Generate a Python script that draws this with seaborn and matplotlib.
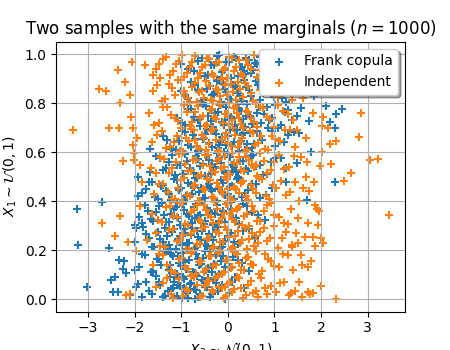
import matplotlib
matplotlib.use("Agg")
import matplotlib.pyplot as plt
import seaborn as sns
import pandas as pd

# Frank copula sample: (X2 ~ N(0,1), X1 ~ U(0,1)) points
frank_points = [
    (-3.01,0.048),(-2.46,0.03),(-2.36,0.03),(-1.97,0.048),(-2.50,0.078),(-2.41,0.091),
    (-1.62,0.02),(-1.45,0.06),(-1.38,0.01),(-1.30,0.085),(-1.22,0.04),(-1.15,0.07),
    (-1.10,0.015),(-1.02,0.055),(-0.96,0.09),(-0.90,0.03),(-0.85,0.005),(-0.78,0.065),
    (-0.72,0.04),(-0.66,0.095),(-0.60,0.02),(-0.52,0.075),(-0.45,0.05),(-0.38,0.01),
    (-0.30,0.08),(-0.22,0.035),(-0.12,0.06),(0.02,0.025),(0.15,0.09),(0.35,0.045),
    (-1.75,0.07),(-1.85,0.01),(-1.55,0.095),(-0.95,0.045),(-0.70,0.0),(-1.28,0.035),
    (-2.34,0.159),(-2.22,0.155),(-2.25,0.125),(-2.18,0.107),(-1.90,0.13),(-1.78,0.18),
    (-1.65,0.11),(-1.52,0.165),(-1.44,0.14),(-1.36,0.195),(-1.27,0.12),(-1.18,0.175),
    (-1.10,0.105),(-1.04,0.15),(-0.97,0.19),(-0.90,0.125),(-0.83,0.16),(-0.75,0.11),
    (-0.68,0.185),(-0.61,0.14),(-0.53,0.17),(-0.46,0.12),(-0.38,0.195),(-0.29,0.145),
    (-0.20,0.105),(-0.10,0.175),(0.05,0.13),(0.22,0.16),(0.45,0.115),(-1.00,0.135),
    (-0.57,0.155),(-1.21,0.185),
    (-3.21,0.22),(-2.55,0.21),(-1.99,0.234),(-1.97,0.29),(-1.83,0.295),(-1.70,0.25),
    (-1.58,0.215),(-1.49,0.275),(-1.40,0.235),(-1.31,0.26),(-1.23,0.205),(-1.15,0.285),
    (-1.07,0.245),(-0.99,0.22),(-0.92,0.27),(-0.84,0.23),(-0.77,0.29),(-0.70,0.21),
    (-0.63,0.255),(-0.55,0.28),(-0.48,0.225),(-0.40,0.265),(-0.31,0.24),(-0.22,0.295),
    (-0.12,0.215),(0.00,0.26),(0.14,0.235),(0.32,0.28),(0.58,0.25),(-0.88,0.205),
    (-0.60,0.24),
    (-3.23,0.367),(-2.69,0.395),(-1.90,0.336),(-1.99,0.305),(-1.84,0.31),(-1.72,0.36),
    (-1.60,0.32),(-1.48,0.38),(-1.37,0.345),(-1.26,0.315),(-1.16,0.37),(-1.06,0.33),
    (-0.97,0.39),(-0.88,0.35),(-0.80,0.31),(-0.72,0.375),(-0.64,0.34),(-0.56,0.395),
    (-0.48,0.32),(-0.40,0.36),(-0.32,0.305),(-0.24,0.385),(-0.15,0.345),(-0.05,0.315),
    (0.06,0.37),(0.18,0.33),(0.33,0.39),(0.52,0.355),(0.80,0.325),(-0.70,0.33),
    (-0.28,0.35),(-1.10,0.395),
    (-1.93,0.497),(-1.93,0.42),(-1.75,0.45),(-1.62,0.48),(-1.50,0.41),(-1.38,0.465),
    (-1.27,0.43),(-1.16,0.49),(-1.05,0.445),(-0.94,0.405),(-0.85,0.475),(-0.76,0.43),
    (-0.67,0.495),(-0.58,0.455),(-0.49,0.415),(-0.41,0.47),(-0.33,0.44),(-0.24,0.40),
    (-0.15,0.485),(-0.06,0.425),(0.04,0.46),(0.14,0.41),(0.25,0.49),(0.37,0.435),
    (0.51,0.47),(0.70,0.415),(0.95,0.455),(1.25,0.48),(1.70,0.404),(2.29,0.48),
    (-0.20,0.45),(-0.72,0.46),
    (-1.66,0.52),(-1.45,0.575),(-1.32,0.535),(-1.20,0.59),(-1.08,0.55),(-0.97,0.51),
    (-0.87,0.565),(-0.78,0.525),(-0.68,0.585),(-0.59,0.545),(-0.50,0.505),(-0.41,0.57),
    (-0.32,0.53),(-0.23,0.595),(-0.14,0.555),(-0.05,0.515),(0.04,0.58),(0.13,0.54),
    (0.22,0.50),(0.32,0.565),(0.43,0.525),(0.55,0.59),(0.68,0.55),(0.84,0.51),
    (1.03,0.575),(1.25,0.535),(1.49,0.556),(-0.35,0.55),(0.10,0.52),
    (-1.66,0.615),(-1.30,0.65),(-1.12,0.61),(-0.98,0.685),(-0.86,0.63),(-0.75,0.67),
    (-0.64,0.605),(-0.54,0.655),(-0.44,0.695),(-0.35,0.62),(-0.26,0.675),(-0.17,0.64),
    (-0.08,0.60),(0.01,0.665),(0.10,0.625),(0.19,0.69),(0.28,0.645),(0.37,0.61),
    (0.47,0.68),(0.57,0.635),(0.68,0.665),(0.80,0.615),(0.94,0.685),(1.10,0.645),
    (1.30,0.67),(1.52,0.678),(1.79,0.60),(2.29,0.70),(0.30,0.67),(-0.20,0.63),
    (-1.10,0.74),(-0.92,0.71),(-0.78,0.775),(-0.65,0.73),(-0.53,0.795),(-0.42,0.75),
    (-0.32,0.705),(-0.22,0.765),(-0.12,0.725),(-0.03,0.785),(0.06,0.745),(0.15,0.71),
    (0.24,0.775),(0.33,0.735),(0.42,0.795),(0.52,0.715),(0.62,0.76),(0.72,0.72),
    (0.83,0.785),(0.95,0.74),(1.08,0.70),(1.22,0.765),(1.38,0.73),(1.58,0.78),
    (2.19,0.724),(2.32,0.755),(2.44,0.778),(2.11,0.79),(0.40,0.75),(-0.05,0.73),
    (-1.00,0.85),(-0.85,0.82),(-0.70,0.875),(-0.57,0.81),(-0.45,0.86),(-0.34,0.835),
    (-0.24,0.89),(-0.14,0.805),(-0.10,0.88),(-0.03,0.845),(0.07,0.815),(0.16,0.87),
    (0.26,0.83),(0.35,0.895),(0.45,0.855),(0.55,0.81),(0.65,0.875),(0.75,0.84),
    (0.86,0.895),(0.98,0.825),(1.10,0.865),(1.24,0.805),(1.40,0.85),(1.60,0.885),
    (1.85,0.83),(2.05,0.86),(0.50,0.84),(0.20,0.86),
    (-1.00,0.96),(-0.72,0.93),(-0.55,0.985),(-0.42,0.915),(-0.30,0.955),(-0.19,0.995),
    (-0.08,0.935),(0.02,0.97),(0.13,0.99),(0.22,0.91),(0.31,0.95),(0.40,0.985),
    (0.49,0.925),(0.58,0.965),(0.67,0.905),(0.76,0.945),(0.86,0.98),(0.96,0.92),
    (1.07,0.96),(1.19,0.995),(1.32,0.93),(1.47,0.97),(1.65,0.91),(1.90,0.95),
    (2.20,0.985),(0.70,0.99),(0.35,0.93),
]

# Frank copula sample, dense core: X2 values and X1 values (band by band)
frank_core_x2 = [
    -1.48,-1.35,-1.25,-1.18,-1.06,-0.99,-0.93,-0.87,-0.81,-0.75,-0.68,-0.63,-0.56,-0.49,-0.42,-0.34,-0.26,-0.17,-0.05,0.08,-1.68,-1.92,-2.10,
    -1.60,-1.48,-1.32,-1.24,-1.14,-1.07,-0.94,-0.87,-0.79,-0.71,-0.64,-0.57,-0.49,-0.42,-0.34,-0.25,-0.15,-0.05,0.12,0.30,-1.85,-2.00,
    -1.76,-1.63,-1.45,-1.35,-1.27,-1.19,-1.11,-1.03,-0.95,-0.88,-0.80,-0.73,-0.66,-0.58,-0.51,-0.44,-0.35,-0.26,-0.17,-0.06,0.07,0.22,0.45,
    -1.78,-1.65,-1.54,-1.42,-1.32,-1.21,-1.11,-1.02,-0.93,-0.84,-0.76,-0.68,-0.60,-0.52,-0.44,-0.36,-0.20,-0.10,0.00,0.12,0.25,0.42,0.65,
    -1.84,-1.68,-1.56,-1.44,-1.33,-1.21,-1.10,-1.00,-0.90,-0.80,-0.71,-0.62,-0.53,-0.45,-0.37,-0.28,-0.10,0.00,0.09,0.20,0.31,0.44,0.60,0.82,
    -1.55,-1.38,-1.26,-1.14,-1.02,-0.92,-0.82,-0.73,-0.63,-0.54,-0.46,-0.37,-0.27,-0.18,-0.09,0.00,0.08,0.18,0.27,0.38,0.49,0.61,0.76,0.93,1.14,
    -1.40,-1.21,-1.05,-0.92,-0.80,-0.70,-0.59,-0.49,-0.40,-0.30,-0.22,-0.13,-0.04,0.05,0.14,0.23,0.33,0.42,0.52,0.62,0.74,0.87,1.02,1.20,1.42,
    -0.98,-0.85,-0.72,-0.59,-0.47,-0.37,-0.27,-0.17,-0.08,0.01,0.10,0.19,0.28,0.37,0.47,0.57,0.67,0.78,0.89,1.01,1.15,1.30,1.48,1.75,
    -0.92,-0.78,-0.64,-0.51,-0.39,-0.29,-0.19,-0.06,0.02,0.11,0.21,0.30,0.40,0.50,0.60,0.70,0.80,0.92,1.04,1.17,1.32,1.50,1.72,
    -0.85,-0.63,-0.48,-0.36,-0.24,-0.13,-0.03,0.07,0.17,0.26,0.36,0.45,0.54,0.63,0.72,0.81,0.91,1.01,1.13,1.25,1.39,1.56,1.78,
]
frank_core_x1 = [
    .072,.013,.091,.046,.058,.004,.083,.027,.064,.097,.038,.011,.079,.052,.088,.021,.067,.044,.002,.071,.035,.062,.016,
    .117,.163,.192,.138,.104,.176,.151,.122,.187,.109,.166,.143,.198,.127,.112,.181,.156,.133,.172,.148,.186,.119,
    .268,.214,.247,.292,.223,.276,.207,.258,.286,.231,.263,.202,.279,.241,.296,.218,.254,.283,.209,.239,.271,.226,.288,
    .384,.326,.357,.393,.314,.348,.377,.302,.366,.338,.311,.389,.342,.307,.371,.353,.319,.362,.396,.331,.308,.381,.344,
    .432,.478,.416,.463,.441,.407,.486,.453,.421,.468,.494,.437,.412,.457,.448,.403,.476,.428,.461,.492,.418,.446,.471,.426,
    .583,.527,.561,.508,.546,.592,.534,.517,.571,.553,.588,.512,.541,.576,.524,.597,.549,.518,.566,.531,.584,.543,.509,.562,.578,
    .668,.612,.647,.683,.621,.656,.608,.674,.638,.692,.617,.661,.629,.689,.643,.604,.677,.634,.616,.686,.652,.697,.626,.641,.681,
    .718,.776,.743,.709,.787,.728,.762,.791,.713,.754,.736,.797,.768,.703,.747,.722,.783,.758,.731,.794,.712,.771,.749,.726,
    .828,.886,.853,.812,.871,.838,.894,.857,.819,.876,.843,.808,.867,.831,.892,.814,.859,.836,.882,.821,.863,.846,.899,
    .938,.972,.913,.956,.991,.927,.968,.904,.983,.947,.919,.976,.934,.961,.993,.922,.951,.908,.979,.943,.966,.931,.917,
]

# Independent sample with the same marginals
indep_points = [
    (-3.32,0.69),(-2.76,0.86),(-2.61,0.85),(-2.36,0.935),(-2.05,0.97),(-2.20,0.887),
    (-2.32,0.80),(-2.09,0.835),(-1.77,0.958),(-2.07,0.744),(-2.55,0.70),(-2.34,0.697),
    (-2.04,0.697),(-1.95,0.658),(-2.04,0.631),(-2.25,0.565),(-2.01,0.595),(-2.01,0.57),
    (-1.88,0.55),(-2.32,0.34),(-2.70,0.313),(-2.41,0.258),(-2.15,0.234),(-1.97,0.196),
    (-1.84,0.479),(-1.88,0.38),(-1.73,0.24),(-2.18,0.016),(-2.10,0.02),
    (2.86,0.76),(2.82,0.662),(3.06,0.57),(3.22,0.573),(3.46,0.343),(2.65,0.517),
    (2.50,0.483),(2.22,0.554),(2.31,0.646),(2.20,0.633),(2.15,0.697),(2.01,0.707),
    (2.04,0.744),(1.82,0.76),(2.01,0.60),(1.97,0.543),(1.87,0.384),(1.95,0.36),
    (1.72,0.31),(1.94,0.302),(1.99,0.248),(2.04,0.23),(1.87,0.216),(1.82,0.254),
    (1.65,0.254),(1.37,0.213),(1.79,0.156),(1.60,0.14),(1.73,0.13),(1.99,0.054),
    (2.31,0.003),(1.72,0.03),(1.82,0.025),(1.60,0.01),(1.31,0.016),(1.67,0.497),
    (1.62,0.453),(1.92,0.37),(1.51,0.33),(1.67,0.66),
    (1.55,0.93),(1.62,0.82),(1.48,0.69),(1.58,0.58),(1.75,0.44),(1.53,0.40),
    (1.46,0.27),(1.57,0.18),(1.52,0.07),(1.70,0.56),(1.85,0.48),
    (-1.55,0.05),(-1.30,0.085),(-1.18,0.004),(-0.97,0.015),(-0.85,0.035),(-0.72,0.09),
    (-0.60,0.01),(-0.50,0.055),(-0.40,0.075),(-0.31,0.03),(-0.22,0.095),(-0.13,0.045),
    (-0.04,0.015),(0.05,0.07),(0.14,0.04),(0.23,0.085),(0.33,0.005),(0.43,0.06),
    (0.54,0.025),(0.64,0.01),(0.80,0.045),(0.85,0.02),(1.03,0.03),(1.12,0.065),
    (1.45,0.035),(1.77,0.02),(-0.05,0.05),
    (-1.60,0.14),(-1.40,0.18),(-1.22,0.115),(-1.05,0.165),(-0.92,0.13),(-0.80,0.19),
    (-0.68,0.105),(-0.57,0.155),(-0.46,0.125),(-0.36,0.175),(-0.26,0.14),(-0.17,0.195),
    (-0.08,0.11),(0.01,0.16),(0.10,0.13),(0.19,0.185),(0.29,0.12),(0.39,0.17),
    (0.50,0.145),(0.61,0.195),(0.73,0.115),(0.86,0.165),(1.00,0.135),(1.18,0.185),
    (1.40,0.12),
    (-1.55,0.27),(-1.35,0.215),(-1.18,0.285),(-1.03,0.24),(-0.90,0.20),(-0.78,0.265),
    (-0.66,0.225),(-0.55,0.29),(-0.45,0.245),(-0.35,0.21),(-0.25,0.275),(-0.16,0.235),
    (-0.07,0.295),(0.02,0.255),(0.11,0.215),(0.21,0.28),(0.31,0.24),(0.41,0.205),
    (0.52,0.27),(0.64,0.23),(0.77,0.29),(0.91,0.25),(1.07,0.21),(1.25,0.275),
    (1.50,0.23),(0.60,0.26),
    (-1.62,0.35),(-1.42,0.315),(-1.25,0.38),(-1.10,0.335),(-0.97,0.395),(-0.85,0.305),
    (-0.73,0.365),(-0.62,0.325),(-0.52,0.385),(-0.42,0.345),(-0.32,0.31),(-0.23,0.37),
    (-0.13,0.33),(-0.04,0.39),(0.05,0.35),(0.15,0.315),(0.25,0.375),(0.35,0.34),
    (0.46,0.30),(0.57,0.36),(0.70,0.32),(0.84,0.385),(1.00,0.345),(1.20,0.31),
    (1.35,0.37),(0.10,0.36),
    (-1.58,0.43),(-1.38,0.47),(-1.20,0.41),(-1.06,0.455),(-0.93,0.495),(-0.81,0.42),
    (-0.70,0.465),(-0.59,0.40),(-0.49,0.445),(-0.39,0.485),(-0.29,0.415),(-0.20,0.46),
    (-0.10,0.43),(-0.01,0.49),(0.08,0.405),(0.18,0.45),(0.28,0.475),(0.38,0.42),
    (0.49,0.465),(0.61,0.435),(0.74,0.49),(0.88,0.41),(1.04,0.455),(1.24,0.425),
    (1.45,0.48),(0.00,0.45),
    (-1.65,0.535),(-1.45,0.58),(-1.27,0.515),(-1.12,0.56),(-0.98,0.595),(-0.86,0.525),
    (-0.74,0.57),(-0.63,0.505),(-0.53,0.55),(-0.43,0.59),(-0.33,0.52),(-0.24,0.565),
    (-0.14,0.535),(-0.05,0.585),(0.04,0.51),(0.14,0.555),(0.24,0.58),(0.34,0.525),
    (0.45,0.57),(0.57,0.54),(0.70,0.595),(0.84,0.515),(1.00,0.56),(1.20,0.53),
    (1.42,0.585),(0.60,0.55),
    (-1.62,0.64),(-1.42,0.685),(-1.24,0.62),(-1.09,0.665),(-0.96,0.60),(-0.84,0.645),
    (-0.72,0.69),(-0.61,0.615),(-0.51,0.66),(-0.41,0.635),(-0.31,0.695),(-0.22,0.605),
    (-0.12,0.65),(-0.03,0.68),(0.06,0.625),(0.16,0.67),(0.26,0.64),(0.36,0.60),
    (0.47,0.685),(0.59,0.63),(0.72,0.665),(0.86,0.61),(1.02,0.655),(1.22,0.69),
    (1.45,0.62),(-0.70,0.65),
    (-1.70,0.76),(-1.48,0.72),(-1.30,0.785),(-1.14,0.74),(-1.00,0.70),(-0.88,0.765),
    (-0.76,0.725),(-0.65,0.79),(-0.54,0.75),(-0.44,0.71),(-0.34,0.775),(-0.25,0.735),
    (-0.15,0.795),(-0.06,0.755),(0.03,0.715),(0.13,0.78),(0.23,0.74),(0.33,0.70),
    (0.44,0.765),(0.56,0.725),(0.69,0.785),(0.83,0.745),(0.99,0.705),(1.18,0.77),
    (1.40,0.73),(0.20,0.76),
    (-1.60,0.85),(-1.42,0.81),(-1.27,0.88),(-1.13,0.835),(-1.00,0.895),(-0.88,0.82),
    (-0.77,0.865),(-0.66,0.805),(-0.56,0.85),(-0.46,0.89),(-0.36,0.815),(-0.26,0.86),
    (-0.17,0.83),(-0.07,0.875),(0.02,0.80),(0.12,0.845),(0.22,0.885),(0.32,0.825),
    (0.43,0.87),(0.55,0.81),(0.68,0.855),(0.82,0.895),(0.98,0.835),(1.17,0.865),
    (1.38,0.815),(-0.95,0.85),
    (-1.55,0.94),(-1.40,0.98),(-1.25,0.915),(-1.12,0.96),(-0.99,0.995),(-0.87,0.925),
    (-0.76,0.97),(-0.65,0.905),(-0.55,0.95),(-0.45,0.985),(-0.35,0.92),(-0.25,0.965),
    (-0.15,0.90),(-0.06,0.945),(0.03,0.99),(0.13,0.93),(0.23,0.975),(0.33,0.91),
    (0.44,0.955),(0.56,0.995),(0.69,0.935),(0.83,0.97),(0.99,0.915),(1.18,0.96),
    (1.40,0.99),(-1.45,0.905),
]

# Independent sample, dense core: X2 values and X1 values (band by band)
indep_core_x2 = [
    -1.40,-1.22,-1.05,-0.90,-0.78,-0.66,-0.55,-0.45,-0.35,-0.27,-0.18,-0.09,0.00,0.09,0.19,0.28,0.38,0.49,0.60,0.72,0.92,1.20,1.35,
    -1.48,-1.30,-1.13,-0.99,-0.86,-0.74,-0.62,-0.51,-0.41,-0.31,-0.21,-0.12,-0.03,0.06,0.15,0.24,0.34,0.44,0.55,0.67,0.80,0.93,1.09,1.28,
    -1.45,-1.27,-1.10,-0.97,-0.84,-0.72,-0.60,-0.50,-0.40,-0.30,-0.20,-0.11,-0.02,0.07,0.16,0.26,0.36,0.46,0.57,0.70,0.84,0.99,1.16,1.38,
    -1.50,-1.33,-1.17,-1.03,-0.91,-0.79,-0.67,-0.57,-0.47,-0.37,-0.27,-0.18,-0.08,0.01,0.10,0.20,0.30,0.41,0.51,0.63,0.77,0.92,1.10,1.28,
    -1.48,-1.29,-1.13,-1.00,-0.87,-0.75,-0.64,-0.54,-0.44,-0.34,-0.24,-0.15,-0.05,0.04,0.13,0.23,0.33,0.43,0.55,0.67,0.81,0.96,1.14,1.34,
    -1.55,-1.36,-1.19,-1.05,-0.92,-0.80,-0.69,-0.58,-0.48,-0.38,-0.28,-0.19,-0.09,0.00,0.09,0.19,0.29,0.39,0.51,0.63,0.77,0.92,1.10,1.31,
    -1.52,-1.33,-1.16,-1.02,-0.90,-0.78,-0.66,-0.56,-0.46,-0.36,-0.26,-0.17,-0.07,0.01,0.11,0.21,0.31,0.41,0.53,0.65,0.79,0.94,1.12,1.33,
    -1.58,-1.39,-1.22,-1.07,-0.94,-0.82,-0.70,-0.59,-0.49,-0.39,-0.30,-0.20,-0.10,-0.01,0.08,0.18,0.28,0.38,0.50,0.62,0.76,0.91,1.08,1.29,
    -1.52,-1.35,-1.20,-1.07,-0.94,-0.82,-0.71,-0.61,-0.51,-0.41,-0.31,-0.21,-0.12,-0.02,0.07,0.17,0.27,0.37,0.49,0.61,0.75,0.90,1.07,1.27,
    -1.60,-1.48,-1.33,-1.18,-1.05,-0.93,-0.81,-0.70,-0.60,-0.50,-0.40,-0.30,-0.20,-0.10,-0.01,0.08,0.18,0.28,0.39,0.50,0.62,0.76,0.91,1.08,1.29,
]
indep_core_x1 = [
    .067,.023,.081,.042,.095,.058,.014,.073,.036,.088,.051,.007,.064,.029,.092,.047,.018,.076,.033,.085,.055,.071,.026,
    .183,.141,.107,.168,.124,.195,.152,.113,.177,.136,.189,.104,.161,.128,.193,.147,.118,.172,.139,.102,.185,.157,.131,.179,
    .216,.284,.239,.261,.203,.277,.226,.293,.248,.212,.269,.235,.281,.207,.257,.228,.291,.244,.219,.273,.238,.297,.252,.221,
    .322,.376,.341,.392,.306,.358,.383,.317,.363,.334,.398,.312,.351,.387,.327,.369,.303,.346,.379,.318,.362,.391,.337,.309,
    .472,.438,.411,.488,.427,.463,.401,.451,.492,.419,.474,.443,.497,.414,.458,.433,.481,.406,.449,.495,.422,.466,.484,.439,
    .514,.572,.536,.593,.551,.522,.568,.506,.587,.543,.519,.574,.538,.509,.596,.556,.528,.581,.547,.502,.565,.529,.589,.541,
    .672,.618,.643,.604,.659,.694,.627,.671,.611,.686,.648,.602,.664,.639,.698,.622,.657,.609,.679,.636,.613,.668,.645,.691,
    .713,.784,.752,.727,.791,.706,.763,.738,.709,.772,.744,.798,.721,.757,.732,.788,.716,.769,.741,.702,.779,.734,.792,.758,
    .874,.818,.862,.893,.836,.807,.881,.847,.823,.869,.811,.854,.898,.833,.877,.815,.858,.884,.842,.803,.866,.891,.827,.851,
    .917,.962,.988,.931,.973,.908,.946,.994,.924,.957,.981,.913,.969,.936,.902,.984,.949,.921,.976,.941,.909,.964,.928,.987,.953,
]

series_labels = ["Frank copula", "Independent"]
series_colors = ["#1f77b4", "#ff7f0e"]
title_text = r"Two samples with the same marginals ($n = 1000$)"
xlabel_text = r"$X_2 \sim \mathcal{N}(0, 1)$"
ylabel_text = r"$X_1 \sim \mathcal{U}(0, 1)$"

n_f = min(len(frank_core_x2), len(frank_core_x1))
n_i = min(len(indep_core_x2), len(indep_core_x1))
frank = pd.concat([
    pd.DataFrame(frank_points, columns=["x2", "x1"]),
    pd.DataFrame({"x2": frank_core_x2[:n_f], "x1": frank_core_x1[:n_f]}),
], ignore_index=True)
indep = pd.concat([
    pd.DataFrame(indep_points, columns=["x2", "x1"]),
    pd.DataFrame({"x2": indep_core_x2[:n_i], "x1": indep_core_x1[:n_i]}),
], ignore_index=True)

fig, ax = plt.subplots(figsize=(4.5, 3.5), dpi=100)
for df, lab, col in zip([frank, indep], series_labels, series_colors):
    sns.scatterplot(data=df, x="x2", y="x1", marker="+", s=36, linewidth=1.5,
                    color=col, label=lab, ax=ax)

ax.set_title(title_text)
ax.set_xlabel(xlabel_text)
ax.set_ylabel(ylabel_text)
ax.set_xlim(-3.68, 3.80)
ax.set_ylim(-0.05, 1.05)
ax.set_xticks([-3, -2, -1, 0, 1, 2, 3])
ax.grid(True)
ax.legend(loc="upper right", shadow=True)

fig.savefig("out.png", dpi=100)
